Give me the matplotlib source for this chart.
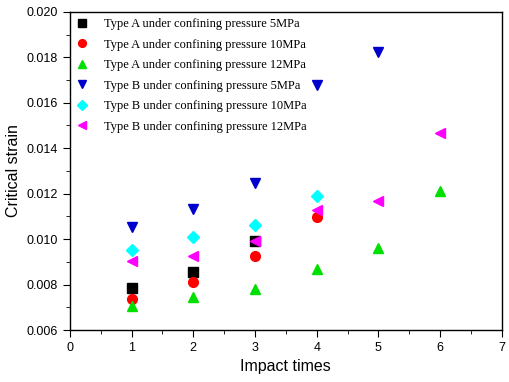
import matplotlib
matplotlib.use("Agg")
import matplotlib.pyplot as plt
from matplotlib.ticker import MultipleLocator

a5_x = [1, 2, 3]
a5_y = [0.00785, 0.00855, 0.00993]
a10_x = [1, 2, 3, 4]
a10_y = [0.00736, 0.00813, 0.00926, 0.01096]
a12_x = [1, 2, 3, 4, 5, 6]
a12_y = [0.00707, 0.00747, 0.00779, 0.00867, 0.00961, 0.01213]
b5_x = [1, 2, 3, 4, 5]
b5_y = [0.01052, 0.01131, 0.01247, 0.01676, 0.01825]
b10_x = [1, 2, 3, 4]
b10_y = [0.00952, 0.01011, 0.01061, 0.0119]
b12_x = [1, 2, 3, 4, 5, 6]
b12_y = [0.00902, 0.00927, 0.0099, 0.01128, 0.01168, 0.01469]

series = [
    (a5_x, a5_y, "s", "#000000", "Type A under confining pressure 5MPa"),
    (a10_x, a10_y, "o", "#ff0000", "Type A under confining pressure 10MPa"),
    (a12_x, a12_y, "^", "#00e000", "Type A under confining pressure 12MPa"),
    (b5_x, b5_y, "v", "#0000cc", "Type B under confining pressure 5MPa"),
    (b10_x, b10_y, "D", "#00ffff", "Type B under confining pressure 10MPa"),
    (b12_x, b12_y, "<", "#ff00ff", "Type B under confining pressure 12MPa"),
]

fig = plt.figure(figsize=(5.1, 3.82), dpi=100)
ax = fig.add_axes([0.137, 0.136, 0.847, 0.833])

for x, y, m, c, lab in series:
    ms = 6 if m == "D" else 7
    ax.plot(x, y, linestyle="none", marker=m, color=c, markersize=ms, label=lab)

ax.set_xlim(0, 7)
ax.set_ylim(0.006, 0.020)
ax.xaxis.set_major_locator(MultipleLocator(1))
ax.xaxis.set_minor_locator(MultipleLocator(0.5))
ax.yaxis.set_major_locator(MultipleLocator(0.002))
ax.yaxis.set_minor_locator(MultipleLocator(0.001))
ax.yaxis.set_major_formatter(plt.FuncFormatter(lambda v, p: f"{v:.3f}"))
ax.tick_params(which="major", direction="out", length=5, labelsize=9,
               labelfontfamily="Liberation Sans")
ax.tick_params(which="minor", direction="out", length=3)
for s in ax.spines.values():
    s.set_linewidth(1.0)

ax.set_xlabel("Impact times", fontsize=11.5, family="Liberation Sans")
ax.set_ylabel("Critical strain", fontsize=11.5, family="Liberation Sans")

ax.legend(loc="upper left", frameon=False, prop={"family": "Liberation Serif", "size": 9},
          markerscale=0.8, handlelength=1.0, handletextpad=1.2, labelspacing=0.68,
          borderaxespad=0.2, borderpad=0.3)

fig.savefig("out.png", dpi=100)
